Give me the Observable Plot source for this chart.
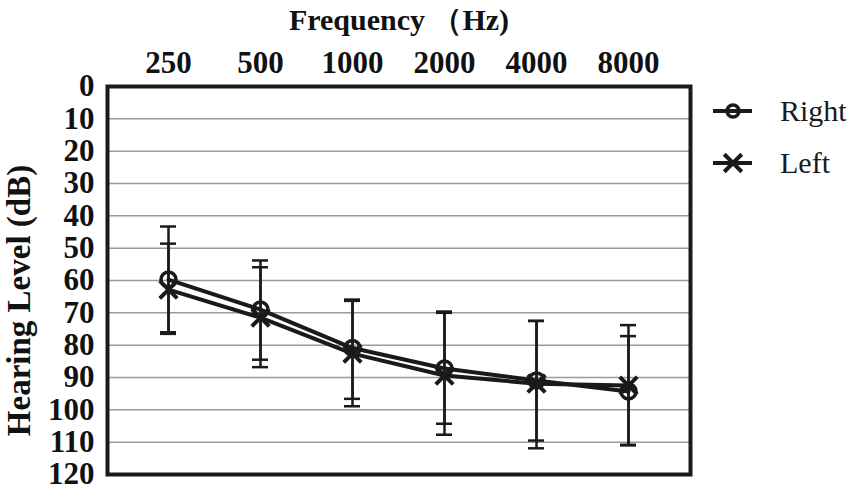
<!DOCTYPE html>
<html>
<head>
<meta charset="utf-8">
<script src="https://cdn.jsdelivr.net/npm/d3@7"></script>
<script src="https://cdn.jsdelivr.net/npm/@observablehq/plot@0.6"></script>
<style>
  html, body { margin: 0; padding: 0; background: white; }
  #wrap { position: relative; width: 854px; height: 496px; }
  #legend { position: absolute; left: 700px; top: 84px; }
</style>
</head>
<body>
<div id="wrap"></div>
<script>
const title = "Frequency （Hz)";
const yLabel = "Hearing Level (dB)";
const freqs = ["250", "500", "1000", "2000", "4000", "8000"];
const yTicks = [0, 10, 20, 30, 40, 50, 60, 70, 80, 90, 100, 110, 120];
const seriesNames = ["Right", "Left"];
const rightMean = [59.7, 69.0, 80.9, 87.2, 90.9, 94.3];
const rightLow  = [43.3, 53.8, 65.9, 69.6, 72.5, 77.2];
const rightHigh = [76.0, 84.5, 96.6, 104.3, 109.5, 110.8];
const leftMean  = [62.8, 71.5, 82.6, 89.4, 91.9, 92.5];
const leftLow   = [48.6, 55.9, 66.3, 70.0, 72.5, 73.8];
const leftHigh  = [76.5, 86.8, 98.9, 107.7, 111.9, 111.0];

const rows = [];
freqs.forEach((f, i) => {
  rows.push({freq: f, side: "Right", mean: rightMean[i], low: rightLow[i], high: rightHigh[i]});
  rows.push({freq: f, side: "Left", mean: leftMean[i], low: leftLow[i], high: leftHigh[i]});
});
const right = rows.filter(d => d.side === "Right");
const left = rows.filter(d => d.side === "Left");

const chart = Plot.plot({
  width: 854,
  height: 496,
  marginLeft: 107,
  marginRight: 164,
  marginTop: 86,
  marginBottom: 22,
  style: {fontFamily: "'Liberation Serif', serif", fontWeight: "bold", fontSize: "31px", color: "#111", background: "white"},
  x: {type: "band", domain: freqs, paddingInner: 0.826, paddingOuter: 0.576},
  y: {domain: [0, 120], reverse: true},
  marks: [
    Plot.gridY(yTicks, {stroke: "#9a9a9a", strokeOpacity: 1, strokeWidth: 1.5}),
    Plot.axisY({ticks: yTicks, tickSize: 0, tickPadding: 13, label: null}),
    Plot.text([yLabel], {frameAnchor: "left", textAnchor: "middle", dx: -88, dy: 20, rotate: -90, fontSize: 33, fontWeight: "bold", fill: "#111"}),
    Plot.axisX({anchor: "top", tickSize: 0, tickPadding: 14, label: null}),
    Plot.text([title], {frameAnchor: "top", dy: -66, lineAnchor: "middle", fontSize: 30, fontWeight: "bold", fill: "#111"}),
    Plot.ruleX(rows, {x: "freq", y1: "low", y2: "high", stroke: "#1a1a1a", strokeWidth: 2.5}),
    Plot.tickY(rows, {x: "freq", y: "low", stroke: "#1a1a1a", strokeWidth: 2.5}),
    Plot.tickY(rows, {x: "freq", y: "high", stroke: "#1a1a1a", strokeWidth: 2.5}),
    Plot.line(left, {x: "freq", y: "mean", stroke: "#1a1a1a", strokeWidth: 4}),
    Plot.line(right, {x: "freq", y: "mean", stroke: "#1a1a1a", strokeWidth: 4}),
    Plot.dot(left, {x: "freq", y: "mean", symbol: "times", r: 8, stroke: "#1a1a1a", strokeWidth: 4}),
    Plot.dot(right, {x: "freq", y: "mean", symbol: "circle", r: 7.5, stroke: "#1a1a1a", strokeWidth: 3.5, fill: "none"}),
    Plot.frame({stroke: "#1a1a1a", strokeWidth: 4})
  ]
});
document.getElementById("wrap").appendChild(chart);

// legend
const legend = d3.select("#wrap").append("div").attr("id", "legend")
  .append("svg").attr("width", 154).attr("height", 110);
const items = legend.selectAll("g").data(seriesNames).join("g")
  .attr("transform", (d, i) => `translate(0, ${27 + i * 52})`);
items.append("line").attr("x1", 13).attr("x2", 52).attr("y1", 0).attr("y2", 0)
  .attr("stroke", "#1a1a1a").attr("stroke-width", 4);
items.append("path")
  .attr("transform", "translate(33,0)")
  .attr("d", (d, i) => d3.symbol(i === 0 ? d3.symbolCircle : d3.symbolTimes, i === 0 ? Math.PI * 36 : Math.PI * 64)())
  .attr("fill", "none").attr("stroke", "#1a1a1a").attr("stroke-width", (d, i) => i === 0 ? 3.5 : 4);
items.append("text").attr("x", 80).attr("y", 10).text(d => d)
  .attr("font-family", "'Liberation Serif', serif").attr("font-size", 30).attr("fill", "#1a1a1a");
</script>
</body>
</html>
